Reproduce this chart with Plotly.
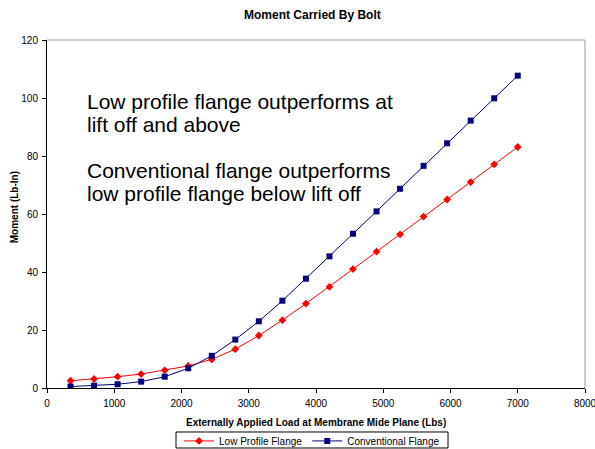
import plotly.graph_objects as go

# Datos:
load_lbs = [350, 700, 1050, 1400, 1750, 2100, 2450, 2800, 3150, 3500,
            3850, 4200, 4550, 4900, 5250, 5600, 5950, 6300, 6650, 7000]
low_profile = [2.5, 3.1, 3.9, 4.8, 6.1, 7.6, 9.9, 13.4, 18.1, 23.4,
               29.1, 34.9, 41.0, 47.0, 53.0, 59.1, 65.0, 71.0, 77.1, 83.1]
conventional = [0.5, 0.8, 1.3, 2.2, 3.9, 6.8, 11.1, 16.7, 23.0, 30.1,
                37.7, 45.4, 53.2, 60.9, 68.7, 76.6, 84.4, 92.2, 99.9, 107.7]
x_ticks = [0, 1000, 2000, 3000, 4000, 5000, 6000, 7000, 8000]
y_ticks = [0, 20, 40, 60, 80, 100, 120]

FONT = 'Liberation Sans, Arial, sans-serif'

fig = go.Figure()

# Serie de brida de bajo perfil:
fig.add_trace(go.Scatter(
    x=load_lbs, y=low_profile, mode='lines+markers',
    name='Low Profile Flange',
    line=dict(color='#FF0000', width=1),
    marker=dict(symbol='diamond', size=6, color='#FF0000')
))

# Serie de brida convencional:
fig.add_trace(go.Scatter(
    x=load_lbs, y=conventional, mode='lines+markers',
    name='Conventional Flange',
    line=dict(color='#000080', width=1),
    marker=dict(symbol='square', size=6, color='#000080')
))

# Ejes (sin automargin para fijar el área de trazado):
fig.update_xaxes(
    range=[0, 8000], tickvals=x_ticks, showgrid=False, zeroline=False,
    showline=True, linecolor='black', linewidth=1, automargin=False,
    ticks='outside', ticklen=4, tickcolor='black', ticklabelstandoff=2,
    ticklabeloverflow='allow', tickfont=dict(size=10, color='black')
)
fig.update_yaxes(
    range=[0, 120], tickvals=y_ticks, showgrid=False, zeroline=False,
    showline=True, linecolor='black', linewidth=1, automargin=False,
    ticks='outside', ticklen=4, tickcolor='black', ticklabelstandoff=2,
    tickfont=dict(size=10, color='black')
)

# Borde gris superior y derecho del área de trazado:
fig.add_shape(type='line', xref='paper', yref='paper',
              x0=0, x1=1, y0=1, y1=1, line=dict(color='#999999', width=1))
fig.add_shape(type='line', xref='paper', yref='paper',
              x0=1, x1=1, y0=0, y1=1, line=dict(color='#999999', width=1))

# Recuadro de la leyenda (más bajo que el borde propio de Plotly):
fig.add_shape(type='rect', xref='paper', yref='paper',
              x0=0.2398, x1=0.7454, y0=-0.1724, y1=-0.1264,
              line=dict(color='black', width=1))

# Títulos de ejes como anotaciones:
fig.add_annotation(
    text='<b>Externally Applied Load at Membrane Mide Plane (Lbs)</b>',
    xref='paper', yref='paper', x=0.5, y=-0.099,
    xanchor='center', yanchor='middle', showarrow=False,
    font=dict(size=10, color='black')
)
fig.add_annotation(
    text='<b>Moment (Lb-In)</b>', textangle=-90,
    xref='paper', yref='paper', x=-0.061, y=0.52,
    xanchor='center', yanchor='middle', showarrow=False,
    font=dict(size=10, color='black')
)

# Anotaciones de texto (una por línea):
notes = [
    ('Low profile flange outperforms at', 0.8247),
    ('lift off and above', 0.7586),
    ('Conventional flange outperforms', 0.6236),
    ('low profile flange below lift off', 0.5575),
]
for text, ypos in notes:
    fig.add_annotation(
        text=text, xref='paper', yref='paper', x=0.071, y=ypos,
        xanchor='left', yanchor='middle', align='left', showarrow=False,
        font=dict(size=21, color='black', family=FONT)
    )

fig.update_layout(
    width=595, height=449,
    margin=dict(l=47, r=10, t=40, b=61),
    paper_bgcolor='white', plot_bgcolor='white',
    font=dict(family=FONT, color='black'),
    title=dict(text='<b>Moment Carried By Bolt</b>', x=0.525, xanchor='center',
               y=0.968, yanchor='middle', font=dict(size=12, color='black')),
    showlegend=True,
    legend=dict(orientation='h', xref='paper', x=0.4926, xanchor='center',
                yref='container', y=0.018, yanchor='middle',
                bgcolor='rgba(0,0,0,0)', borderwidth=0,
                font=dict(size=10, color='black'), itemwidth=30,
                tracegroupgap=0)
)

# Quitar el margen del body para que la figura empiece en (0, 0):
fig.write_html('out.html', config={'displayModeBar': False},
               post_script="document.body.style.margin='0px';")
